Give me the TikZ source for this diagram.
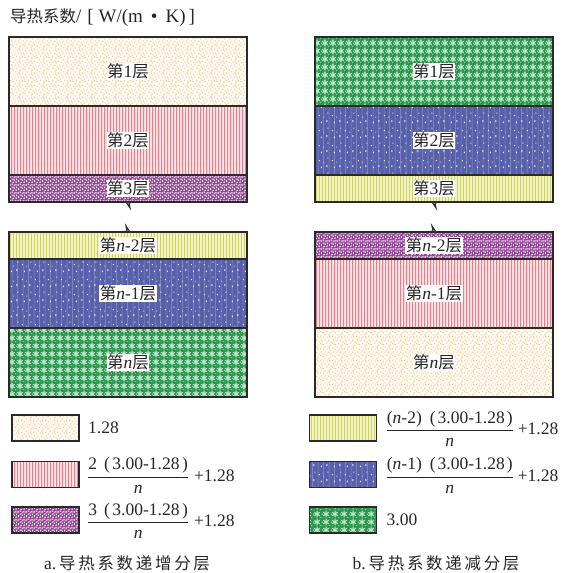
\documentclass[tikz,border=0pt]{standalone}
\usepackage{fontspec}
\setmainfont{Liberation Serif}
\newfontfamily\cjk[Scale=0.94]{Noto Sans CJK SC}
\usetikzlibrary{patterns,calc}
\definecolor{creamF}{HTML}{FFFBF4}
\definecolor{creamP}{HTML}{F4CC92}
\definecolor{pinkF}{HTML}{FCE6E8}
\definecolor{pinkP}{HTML}{E7808B}
\definecolor{purpF}{HTML}{9A449C}
\definecolor{purpP}{HTML}{FFFFFF}
\definecolor{yelF}{HTML}{F4F5BF}
\definecolor{yelP}{HTML}{CDD16C}
\definecolor{blueF}{HTML}{5760A9}
\definecolor{blueL}{HTML}{8E95D0}
\definecolor{blueP}{HTML}{E6E8F8}
\definecolor{greenF}{HTML}{2C9852}
\definecolor{greenP}{HTML}{C4E8CC}
\definecolor{edgeC}{HTML}{2A2A2A}
\pgfdeclarepatternformonly{specks}{\pgfqpoint{0pt}{0pt}}{\pgfqpoint{12pt}{12pt}}{\pgfqpoint{12pt}{12pt}}{%
\pgfpathrectangle{\pgfqpoint{0.5pt}{0.8pt}}{\pgfqpoint{1.3pt}{1pt}}%
\pgfpathrectangle{\pgfqpoint{4.2pt}{2.1pt}}{\pgfqpoint{1pt}{1.4pt}}%
\pgfpathrectangle{\pgfqpoint{7.5pt}{0.4pt}}{\pgfqpoint{1.5pt}{1pt}}%
\pgfpathrectangle{\pgfqpoint{10.2pt}{1.6pt}}{\pgfqpoint{1.2pt}{1.2pt}}%
\pgfpathrectangle{\pgfqpoint{2.3pt}{4.6pt}}{\pgfqpoint{1pt}{1pt}}%
\pgfpathrectangle{\pgfqpoint{6.1pt}{5.2pt}}{\pgfqpoint{1.4pt}{1.1pt}}%
\pgfpathrectangle{\pgfqpoint{8.6pt}{3.5pt}}{\pgfqpoint{1pt}{1.2pt}}%
\pgfpathrectangle{\pgfqpoint{11pt}{5.3pt}}{\pgfqpoint{1pt}{1.4pt}}%
\pgfpathrectangle{\pgfqpoint{0.9pt}{7.8pt}}{\pgfqpoint{1.2pt}{1.3pt}}%
\pgfpathrectangle{\pgfqpoint{4.6pt}{8.3pt}}{\pgfqpoint{1.3pt}{1pt}}%
\pgfpathrectangle{\pgfqpoint{8.0pt}{7.4pt}}{\pgfqpoint{1pt}{1pt}}%
\pgfpathrectangle{\pgfqpoint{3.0pt}{6.6pt}}{\pgfqpoint{0.8pt}{0.8pt}}%
\pgfpathrectangle{\pgfqpoint{9.8pt}{9.2pt}}{\pgfqpoint{1.3pt}{1.1pt}}%
\pgfpathrectangle{\pgfqpoint{6.5pt}{10.4pt}}{\pgfqpoint{1.1pt}{1.2pt}}%
\pgfpathrectangle{\pgfqpoint{2.6pt}{10.6pt}}{\pgfqpoint{1.2pt}{1pt}}%
\pgfpathrectangle{\pgfqpoint{0.2pt}{3.4pt}}{\pgfqpoint{1pt}{1pt}}%
\pgfpathrectangle{\pgfqpoint{5.6pt}{3.8pt}}{\pgfqpoint{0.9pt}{0.9pt}}%
\pgfpathrectangle{\pgfqpoint{7.2pt}{8.9pt}}{\pgfqpoint{0.9pt}{0.9pt}}%
\pgfusepath{fill}}
\pgfdeclarepatternformonly{pinklines}{\pgfqpoint{0pt}{0pt}}{\pgfqpoint{3pt}{3pt}}{\pgfqpoint{3pt}{3pt}}{%
\pgfpathrectangle{\pgfqpoint{0pt}{0pt}}{\pgfqpoint{1.1pt}{3pt}}%
\pgfusepath{fill}}
\pgfdeclarepatternformonly{yellines}{\pgfqpoint{0pt}{0pt}}{\pgfqpoint{2.6pt}{3pt}}{\pgfqpoint{2.6pt}{3pt}}{%
\pgfpathrectangle{\pgfqpoint{0pt}{0pt}}{\pgfqpoint{1pt}{3pt}}%
\pgfusepath{fill}}
\pgfdeclarepatternformonly{mottle}{\pgfqpoint{0pt}{0pt}}{\pgfqpoint{8pt}{8pt}}{\pgfqpoint{8pt}{8pt}}{%
\pgfpathrectangle{\pgfqpoint{0.3pt}{0.5pt}}{\pgfqpoint{1.6pt}{0.9pt}}%
\pgfpathrectangle{\pgfqpoint{3.1pt}{1.2pt}}{\pgfqpoint{0.9pt}{1.6pt}}%
\pgfpathrectangle{\pgfqpoint{5.4pt}{0.2pt}}{\pgfqpoint{1.4pt}{1pt}}%
\pgfpathrectangle{\pgfqpoint{1.2pt}{2.9pt}}{\pgfqpoint{1pt}{1.4pt}}%
\pgfpathrectangle{\pgfqpoint{4.8pt}{3.4pt}}{\pgfqpoint{1.8pt}{0.9pt}}%
\pgfpathrectangle{\pgfqpoint{6.9pt}{2.1pt}}{\pgfqpoint{0.9pt}{1.3pt}}%
\pgfpathrectangle{\pgfqpoint{0.2pt}{5.6pt}}{\pgfqpoint{1.4pt}{1pt}}%
\pgfpathrectangle{\pgfqpoint{2.7pt}{5.1pt}}{\pgfqpoint{1pt}{1.8pt}}%
\pgfpathrectangle{\pgfqpoint{4.6pt}{6.3pt}}{\pgfqpoint{1.6pt}{1pt}}%
\pgfpathrectangle{\pgfqpoint{6.8pt}{5.0pt}}{\pgfqpoint{0.9pt}{1.3pt}}%
\pgfusepath{fill}}
\pgfdeclarepatternformonly{bluelines}{\pgfqpoint{0pt}{0pt}}{\pgfqpoint{11pt}{20pt}}{\pgfqpoint{11pt}{20pt}}{%
\pgfpathrectangle{\pgfqpoint{1pt}{0pt}}{\pgfqpoint{0.5pt}{20pt}}%
\pgfpathrectangle{\pgfqpoint{6.5pt}{0pt}}{\pgfqpoint{0.5pt}{20pt}}%
\pgfusepath{fill}}
\pgfdeclarepatternformonly{bluedots}{\pgfqpoint{0pt}{0pt}}{\pgfqpoint{13pt}{15pt}}{\pgfqpoint{13pt}{15pt}}{%
\pgfpathrectangle{\pgfqpoint{3.5pt}{3pt}}{\pgfqpoint{0.9pt}{1.8pt}}%
\pgfpathrectangle{\pgfqpoint{9pt}{9pt}}{\pgfqpoint{0.9pt}{0.9pt}}%
\pgfpathrectangle{\pgfqpoint{4.5pt}{11.5pt}}{\pgfqpoint{0.8pt}{0.8pt}}%
\pgfpathrectangle{\pgfqpoint{11pt}{2pt}}{\pgfqpoint{0.8pt}{1.4pt}}%
\pgfpathrectangle{\pgfqpoint{0.3pt}{7.5pt}}{\pgfqpoint{0.8pt}{0.8pt}}%
\pgfusepath{fill}}
\pgfdeclarepatternformonly{greenstar}{\pgfqpoint{0pt}{0pt}}{\pgfqpoint{8.5pt}{8pt}}{\pgfqpoint{8.5pt}{8pt}}{%
\pgfsetlinewidth{1.1pt}%
\pgfpathmoveto{\pgfqpoint{4.25pt}{0.6pt}}\pgfpathlineto{\pgfqpoint{4.25pt}{7.4pt}}%
\pgfpathmoveto{\pgfqpoint{1.4pt}{2.3pt}}\pgfpathlineto{\pgfqpoint{7.1pt}{5.7pt}}%
\pgfpathmoveto{\pgfqpoint{1.4pt}{5.7pt}}\pgfpathlineto{\pgfqpoint{7.1pt}{2.3pt}}%
\pgfusepath{stroke}%
\pgfpathrectangle{\pgfqpoint{0pt}{3.5pt}}{\pgfqpoint{0.8pt}{1pt}}%
\pgfpathrectangle{\pgfqpoint{7.8pt}{0pt}}{\pgfqpoint{0.7pt}{0.8pt}}%
\pgfusepath{fill}}
\newcommand\cjkDi{{\cjk 第}}
\newcommand\cjkCeng{{\cjk 层}}
\newcommand\numA[1]{#1\hspace{7bp}(\hspace{2.5bp}3.00-1.28\hspace{2.5bp})}
\newcommand\numB[1]{(\textit{n}-#1)\hspace{8bp}(\hspace{2bp}3.00-1.28\hspace{2bp})}
\begin{document}
\begin{tikzpicture}[x=1bp,y=-1bp,
  every node/.style={font=\fontsize{17.5bp}{20bp}\selectfont, text=black!85},
  layer/.style={draw=edgeC, line width=1.1bp, inner sep=0pt, outer sep=0pt, minimum width=238bp},
  thick/.style={minimum height=69bp},
  thin/.style={minimum height=27bp},
  keybox/.style={draw=edgeC, line width=1.1bp, inner sep=0pt, outer sep=0pt, minimum width=67bp, minimum height=26bp},
  fa/.style={preaction={fill=creamF}, pattern=specks, pattern color=creamP},
  fb/.style={preaction={fill=pinkF}, pattern=pinklines, pattern color=pinkP},
  fc/.style={preaction={fill=purpF}, pattern=mottle, pattern color=purpP},
  fd/.style={preaction={fill=yelF}, pattern=yellines, pattern color=yelP},
  fe/.style={preaction={fill=blueF}, preaction={pattern=bluelines, pattern color=blueL}, pattern=bluedots, pattern color=blueP},
  ff/.style={preaction={fill=greenF}, pattern=greenstar, pattern color=greenP},
  lab/.style={fill=white, inner sep=0.6bp},
  keytext/.style={anchor=west, inner sep=0pt},
  brk/.style={draw=edgeC, line width=1.1bp, line join=miter}
]
\useasboundingbox (0,0) rectangle (564,573);
% header
\node[anchor=west, inner sep=0pt, font=\fontsize{19bp}{22bp}\selectfont] (hdr) at (10,18) {{\fontsize{17.5bp}{20bp}\selectfont\cjk 导热系数}/\hspace{6bp}[\hspace{5bp}W/(m\hspace{8bp}•\hspace{8bp}K)\hspace{3bp}]};
% ---- left column (a) ----
\node[layer, thick, fa] (a1) at (128,71.5) {};
\node[layer, thick, fb] (a2) at (128,140.5) {};
\node[layer, thin, fc] (a3) at (128,188.5) {};
\node[layer, thin, fd] (a4) at (128,245.5) {};
\node[layer, thick, fe] (a5) at (128,293.5) {};
\node[layer, thick, ff] (a6) at (128,362.5) {};
\node[lab] (ta1) at (a1.center) {\cjkDi 1\cjkCeng};
\node[lab] (ta2) at (a2.center) {\cjkDi 2\cjkCeng};
\node[lab] (ta3) at (a3.center) {\cjkDi 3\cjkCeng};
\node[lab] (ta4) at (a4.center) {\cjkDi\textit{n}-2\cjkCeng};
\node[lab] (ta5) at (a5.center) {\cjkDi\textit{n}-1\cjkCeng};
\node[lab] (ta6) at (a6.center) {\cjkDi\textit{n}\cjkCeng};
\draw[brk] ($(a3.south)+(-6,0)$) -- ($(a3.south)+(-2,0)$) -- ($(a3.south)+(2,6)$) -- ($(a3.south)+(1,1)$) -- ($(a3.south)+(6,0)$);
\draw[brk] ($(a4.north)+(-6,0)$) -- ($(a4.north)+(-1,-1)$) -- ($(a4.north)+(-2,-6)$) -- ($(a4.north)+(2,0)$) -- ($(a4.north)+(6,0)$);
% ---- right column (b) ----
\node[layer, thick, ff] (b1) at (434,71.5) {};
\node[layer, thick, fe] (b2) at (434,140.5) {};
\node[layer, thin, fd] (b3) at (434,188.5) {};
\node[layer, thin, fc] (b4) at (434,245.5) {};
\node[layer, thick, fb] (b5) at (434,293.5) {};
\node[layer, thick, fa] (b6) at (434,362.5) {};
\node[lab] (tb1) at (b1.center) {\cjkDi 1\cjkCeng};
\node[lab] (tb2) at (b2.center) {\cjkDi 2\cjkCeng};
\node[lab] (tb3) at (b3.center) {\cjkDi 3\cjkCeng};
\node[lab] (tb4) at (b4.center) {\cjkDi\textit{n}-2\cjkCeng};
\node[lab] (tb5) at (b5.center) {\cjkDi\textit{n}-1\cjkCeng};
\node[lab] (tb6) at (b6.center) {\cjkDi\textit{n}\cjkCeng};
\draw[brk] ($(b3.south)+(-6,0)$) -- ($(b3.south)+(-2,0)$) -- ($(b3.south)+(2,6)$) -- ($(b3.south)+(1,1)$) -- ($(b3.south)+(6,0)$);
\draw[brk] ($(b4.north)+(-6,0)$) -- ($(b4.north)+(-1,-1)$) -- ($(b4.north)+(-2,-6)$) -- ($(b4.north)+(2,0)$) -- ($(b4.north)+(6,0)$);
% ---- legend (a) ----
\node[keybox, fa] (ka1) at (45.5,428) {};
\node[keybox, fb] (ka2) at (45.5,474.5) {};
\node[keybox, fc] (ka3) at (45.5,520) {};
\node[keytext] (la1) at ($(ka1.east)+(9,0)$) {1.28};
\node[keytext] (la2) at ($(ka2.east)+(8,1)$) {$\displaystyle\frac{\mbox{\numA{2}}}{\mbox{\itshape n}}$\hspace{5bp}+1.28};
\node[keytext] (la3) at ($(ka3.east)+(8,1)$) {$\displaystyle\frac{\mbox{\numA{3}}}{\mbox{\itshape n}}$\hspace{5bp}+1.28};
% ---- legend (b) ----
\node[keybox, fd] (kb1) at (343,428) {};
\node[keybox, fe] (kb2) at (343,474.5) {};
\node[keybox, ff] (kb3) at (343,520) {};
\node[keytext] (lb1) at ($(kb1.east)+(9,1)$) {$\displaystyle\frac{\mbox{\numB{2}}}{\mbox{\itshape n}}$\hspace{4bp}+1.28};
\node[keytext] (lb2) at ($(kb2.east)+(9,1)$) {$\displaystyle\frac{\mbox{\numB{1}}}{\mbox{\itshape n}}$\hspace{4bp}+1.28};
\node[keytext] (lb3) at ($(kb3.east)+(10,0)$) {3.00};
% captions
\node (capa) at (127,563) {a.\,{\cjk 导\,热\,系\,数\,递\,增\,分\,层}};
\node (capb) at (436,563) {b.\,{\cjk 导\,热\,系\,数\,递\,减\,分\,层}};
\end{tikzpicture}
\end{document}
